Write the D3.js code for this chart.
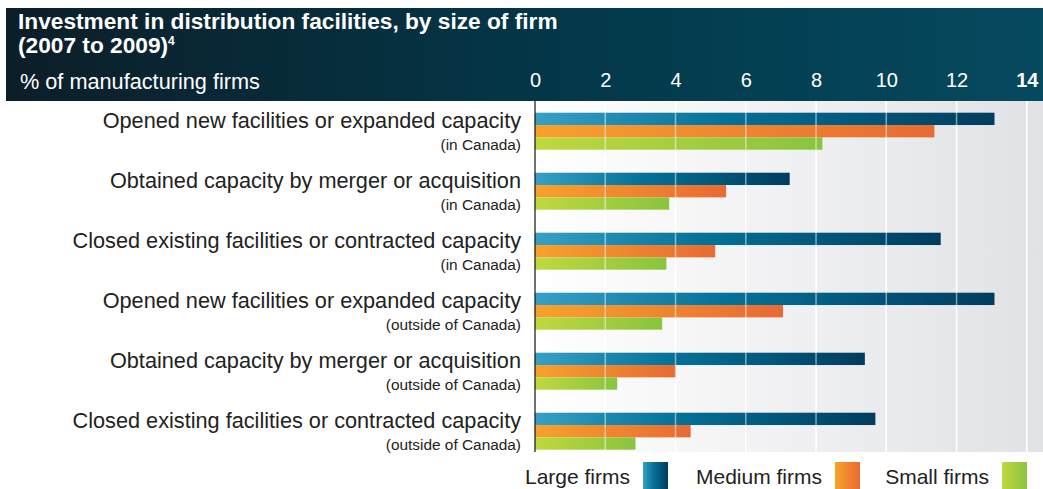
<!DOCTYPE html>
<html>
<head>
<meta charset="utf-8">
<script src="https://cdn.jsdelivr.net/npm/d3@7"></script>
<style>
  body { margin: 0; background: #fff; }
  text { font-family: "Liberation Sans", Arial, Helvetica, sans-serif; }
</style>
</head>
<body>
<svg id="chart" width="1043" height="489"></svg>
<script>
// chart data
var categories = [
    "Opened new facilities or expanded capacity",
    "Obtained capacity by merger or acquisition",
    "Closed existing facilities or contracted capacity",
    "Opened new facilities or expanded capacity",
    "Obtained capacity by merger or acquisition",
    "Closed existing facilities or contracted capacity"
]
var subLabels = ["(in Canada)", "(in Canada)", "(in Canada)",
    "(outside of Canada)", "(outside of Canada)", "(outside of Canada)"]
var seriesNames = ["Large firms", "Medium firms", "Small firms"]
var largeFirms = [13.08, 7.25, 11.55, 13.08, 9.39, 9.69]
var mediumFirms = [11.37, 5.44, 5.13, 7.06, 4.01, 4.43]
var smallFirms = [8.18, 3.82, 3.74, 3.62, 2.34, 2.86]
var tickValues = [0, 2, 4, 6, 8, 10, 12, 14]

var seriesValues = [largeFirms, mediumFirms, smallFirms]
var gradIds = ["gLarge", "gMedium", "gSmall"]

var svg = d3.select("#chart")
var defs = svg.append("defs")

function addGradient(id, stops) {
    var g = defs.append("linearGradient").attr("id", id)
        .attr("x1", "0%").attr("x2", "100%").attr("y1", "0%").attr("y2", "0%")
    stops.forEach(function(s) {
        g.append("stop").attr("offset", s[0]).attr("stop-color", s[1])
    })
}
addGradient("gHeader", [["0%", "#0c1e28"], ["55%", "#03384a"], ["100%", "#064a5f"]])
addGradient("gPlot", [["0%", "#ffffff"], ["100%", "#e1e2e5"]])
addGradient("gLarge", [["0%", "#38a0c5"], ["40%", "#05739a"], ["100%", "#003d5e"]])
addGradient("gMedium", [["0%", "#f7a22b"], ["100%", "#e86a34"]])
addGradient("gSmall", [["0%", "#c0d83e"], ["100%", "#89c440"]])

var x = d3.scaleLinear().domain([0, 14]).range([535, 1026.8])
var y = d3.scaleBand().domain(d3.range(categories.length))
    .range([112.7, 449.7]).paddingInner(23 / 60).paddingOuter(0)
var ySub = d3.scaleBand().domain(d3.range(seriesNames.length)).range([0, y.bandwidth()])

// header
svg.append("rect").attr("x", 6).attr("y", 8).attr("width", 1037).attr("height", 93)
    .attr("fill", "url(#gHeader)")

var title = svg.append("text").attr("x", 18).attr("y", 29)
    .attr("fill", "#fff").style("font-weight", "bold").style("font-size", "22.7px")
title.text("Investment in distribution facilities, by size of firm")
var title2 = svg.append("text").attr("x", 18).attr("y", 53)
    .attr("fill", "#fff").style("font-weight", "bold").style("font-size", "22.7px")
title2.append("tspan").text("(2007 to 2009)")
title2.append("tspan").attr("dy", -8).style("font-size", "12px").text("4")

svg.append("text").attr("x", 20).attr("y", 89).attr("fill", "#fff")
    .style("font-size", "21.7px").text("% of manufacturing firms")

// plot background
svg.append("rect").attr("x", x(0)).attr("y", 101).attr("width", 1043 - x(0)).attr("height", 351)
    .attr("fill", "url(#gPlot)")

// gridlines under bars
svg.append("g").selectAll("line").data(tickValues.slice(1)).join("line")
    .attr("x1", d => x(d)).attr("x2", d => x(d)).attr("y1", 101).attr("y2", 452)
    .attr("stroke", "#fff").attr("stroke-width", 1.5)

// bars
seriesValues.forEach(function(vals, s) {
    svg.append("g").selectAll("rect").data(vals).join("rect")
        .attr("x", x(0))
        .attr("y", (d, i) => y(i) + ySub(s))
        .attr("width", d => x(d) - x(0))
        .attr("height", ySub.bandwidth())
        .attr("fill", "url(#" + gradIds[s] + ")")
})

// gridlines over bars
svg.append("g").selectAll("line").data(tickValues.slice(1)).join("line")
    .attr("x1", d => x(d)).attr("x2", d => x(d)).attr("y1", 101).attr("y2", 452)
    .attr("stroke", "#fff").attr("stroke-width", 1.5).attr("opacity", 0.5)

// y axis line
svg.append("line").attr("x1", x(0)).attr("x2", x(0)).attr("y1", 101).attr("y2", 452)
    .attr("stroke", "#111").attr("stroke-width", 1.2)

// x axis in the header
var xAxis = svg.append("g").attr("transform", "translate(0,86.5)")
    .call(d3.axisTop(x).tickValues(tickValues).tickSize(0).tickPadding(0))
xAxis.select(".domain").remove()
xAxis.selectAll("text").attr("fill", "#fff").style("font-size", "20px")
    .style("font-family", "'Liberation Sans', Arial, sans-serif")
    .style("font-weight", d => d === 14 ? "bold" : "normal")

// category labels
var labels = svg.append("g")
labels.selectAll("text.main").data(categories).join("text").attr("class", "main")
    .attr("x", 521).attr("y", (d, i) => y(i) + 15)
    .attr("text-anchor", "end").attr("fill", "#222").style("font-size", "21.7px")
    .text(d => d)
labels.selectAll("text.sub").data(subLabels).join("text").attr("class", "sub")
    .attr("x", 521).attr("y", (d, i) => y(i) + 37.3)
    .attr("text-anchor", "end").attr("fill", "#222").style("font-size", "15.4px")
    .text(d => d)

// legend
var legendX = [643, 835, 1002]
var legend = svg.append("g").selectAll("g").data(seriesNames).join("g")
    .attr("transform", (d, i) => "translate(" + legendX[i] + ",0)")
legend.append("rect").attr("x", 0).attr("y", 462).attr("width", 25).attr("height", 27)
    .attr("fill", (d, i) => "url(#" + gradIds[i] + ")")
legend.append("text").attr("x", -13).attr("y", 484).attr("text-anchor", "end")
    .attr("fill", "#222").style("font-size", "21px").text(d => d)
</script>
</body>
</html>
